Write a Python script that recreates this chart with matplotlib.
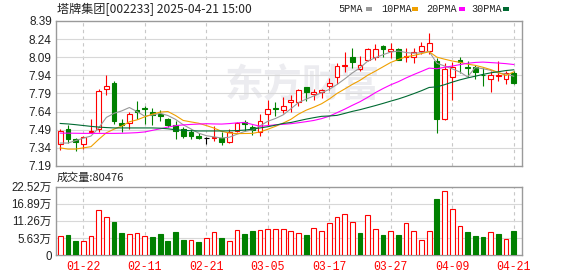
import numpy as np
import matplotlib.pyplot as plt
from matplotlib.patches import Rectangle

# 塔牌集团 日K 数据 (2025-01-17 ~ 2025-04-21)
dates = ["01-17", "01-20", "01-21", "01-22", "01-23", "01-24", "01-27", "02-05", "02-06", "02-07",
         "02-10", "02-11", "02-12", "02-13", "02-14", "02-17", "02-18", "02-19", "02-20", "02-21",
         "02-24", "02-25", "02-26", "02-27", "02-28", "03-03", "03-04", "03-05", "03-06", "03-07",
         "03-10", "03-11", "03-12", "03-13", "03-14", "03-17", "03-18", "03-19", "03-20", "03-21",
         "03-24", "03-25", "03-26", "03-27", "03-28", "03-31", "04-01", "04-02", "04-03", "04-07",
         "04-08", "04-09", "04-10", "04-11", "04-14", "04-15", "04-16", "04-17", "04-18", "04-21"]

open_ = [7.37, 7.50, 7.41, 7.37, 7.47, 7.50, 7.83, 7.88, 7.55, 7.55,
         7.65, 7.67, 7.64, 7.62, 7.58, 7.53, 7.50, 7.47, 7.435, 7.425,
         7.42, 7.42, 7.39, 7.48, 7.555, 7.51, 7.47, 7.62, 7.67, 7.65,
         7.72, 7.72, 7.84, 7.79, 7.80, 7.85, 7.93, 8.02, 8.09, 7.99,
         8.07, 8.09, 8.18, 8.14, 8.16, 8.09, 8.09, 8.14, 8.14, 8.06,
         7.58, 7.93, 8.07, 8.01, 8.01, 7.945, 7.91, 7.935, 7.91, 7.96]
high = [7.50, 7.53, 7.42, 7.44, 7.58, 7.83, 7.94, 7.89, 7.58, 7.64,
        7.73, 7.69, 7.67, 7.65, 7.59, 7.56, 7.51, 7.50, 7.46, 7.43,
        7.52, 7.47, 7.50, 7.55, 7.57, 7.53, 7.62, 7.74, 7.72, 7.76,
        7.78, 7.83, 7.84, 7.83, 7.83, 7.92, 8.04, 8.13, 8.17, 8.10,
        8.17, 8.20, 8.19, 8.21, 8.17, 8.17, 8.17, 8.22, 8.29, 8.08,
        8.04, 8.05, 8.09, 8.06, 8.03, 8.00, 7.98, 8.06, 7.98, 7.98]
low = [7.32, 7.38, 7.31, 7.33, 7.46, 7.47, 7.78, 7.54, 7.47, 7.50,
       7.58, 7.54, 7.53, 7.56, 7.51, 7.41, 7.42, 7.41, 7.41, 7.37,
       7.40, 7.36, 7.38, 7.47, 7.48, 7.45, 7.44, 7.53, 7.60, 7.63,
       7.64, 7.69, 7.73, 7.74, 7.75, 7.82, 7.87, 7.97, 8.00, 7.98,
       8.06, 8.07, 8.09, 8.08, 8.07, 8.05, 8.04, 8.12, 8.12, 7.46,
       7.57, 7.74, 7.96, 7.93, 7.91, 7.85, 7.80, 7.89, 7.87, 7.87]
close = [7.48, 7.41, 7.39, 7.43, 7.48, 7.81, 7.85, 7.56, 7.53, 7.62,
         7.64, 7.66, 7.61, 7.60, 7.53, 7.48, 7.435, 7.44, 7.425, 7.425,
         7.43, 7.39, 7.47, 7.55, 7.535, 7.49, 7.56, 7.66, 7.665, 7.69,
         7.74, 7.82, 7.80, 7.80, 7.82, 7.88, 8.02, 8.03, 8.05, 8.03,
         8.16, 8.16, 8.155, 8.16, 8.07, 8.10, 8.13, 8.18, 8.21, 7.58,
         7.99, 8.01, 8.05, 8.005, 7.97, 7.94, 7.945, 7.94, 7.96, 7.88]

# 均线
ma5 = [7.38, 7.38, 7.40, 7.42, 7.438, 7.504, 7.592, 7.626, 7.646, 7.674,
       7.640, 7.602, 7.612, 7.626, 7.608, 7.576, 7.531, 7.497, 7.462, 7.441,
       7.431, 7.422, 7.428, 7.453, 7.476, 7.488, 7.522, 7.560, 7.583, 7.613,
       7.663, 7.715, 7.743, 7.770, 7.796, 7.824, 7.864, 7.910, 7.960, 8.002,
       8.058, 8.086, 8.111, 8.133, 8.141, 8.129, 8.123, 8.128, 8.138, 8.040,
       8.018, 7.994, 7.968, 7.927, 8.005, 7.995, 7.982, 7.960, 7.951, 7.933]
ma10 = [7.34, 7.33, 7.33, 7.34, 7.35, 7.41, 7.465, 7.495, 7.52, 7.556,
        7.572, 7.597, 7.619, 7.636, 7.641, 7.608, 7.567, 7.555, 7.544, 7.525,
        7.504, 7.477, 7.463, 7.458, 7.459, 7.460, 7.472, 7.494, 7.518, 7.545,
        7.576, 7.619, 7.652, 7.677, 7.705, 7.744, 7.790, 7.827, 7.865, 7.899,
        7.941, 7.975, 8.011, 8.047, 8.072, 8.094, 8.105, 8.120, 8.136, 8.091,
        8.074, 8.059, 8.048, 8.033, 8.023, 8.007, 7.988, 7.964, 7.939, 7.969]
ma20 = [7.462, 7.462, 7.461, 7.460, 7.460, 7.460, 7.460, 7.460, 7.461, 7.463,
        7.466, 7.472, 7.485, 7.498, 7.512, 7.524, 7.530, 7.534, 7.537, 7.540,
        7.538, 7.537, 7.541, 7.547, 7.550, 7.534, 7.519, 7.524, 7.531, 7.535,
        7.540, 7.548, 7.557, 7.567, 7.582, 7.602, 7.631, 7.660, 7.692, 7.722,
        7.758, 7.797, 7.831, 7.862, 7.888, 7.919, 7.947, 7.973, 8.000, 7.995,
        8.007, 8.017, 8.029, 8.040, 8.047, 8.050, 8.046, 8.042, 8.037, 8.030]
ma30 = [7.542, 7.538, 7.532, 7.525, 7.518, 7.512, 7.508, 7.505, 7.505, 7.505,
        7.505, 7.505, 7.505, 7.503, 7.498, 7.490, 7.485, 7.482, 7.480, 7.480,
        7.480, 7.480, 7.481, 7.483, 7.487, 7.495, 7.505, 7.515, 7.528, 7.542,
        7.550, 7.564, 7.578, 7.590, 7.601, 7.604, 7.609, 7.625, 7.642, 7.656,
        7.673, 7.690, 7.708, 7.727, 7.745, 7.766, 7.789, 7.813, 7.840, 7.845,
        7.863, 7.884, 7.903, 7.919, 7.933, 7.948, 7.961, 7.970, 7.980, 7.986]

# 成交量 (手)
volume = [62600, 65900, 46100, 46100, 62600, 148200, 124000, 109800, 71300, 68100,
          71300, 62600, 58200, 68100, 46100, 75700, 49400, 49400, 42800, 54900,
          74600, 56000, 46100, 81200, 69200, 79000, 82300, 85600, 85600, 85600,
          79000, 71300, 65900, 87800, 79000, 104300, 124000, 133900, 107600, 72400,
          130600, 84500, 65900, 79000, 65900, 104300, 79000, 49400, 79000, 184400,
          209700, 150400, 94400, 75700, 62600, 59300, 74600, 69200, 52700, 80476]

price_ticks = [7.19, 7.34, 7.49, 7.64, 7.79, 7.94, 8.09, 8.24, 8.39]
vol_ticks = [0, 56300, 112600, 168900, 225200]
tick_idx = [3, 11, 19, 27, 35, 43, 51, 59]

RED = "#ff0000"
GREEN = "#008000"
GRID = "#d8d8d8"
BORDER = "#9a9a9a"
CJK = ["Noto Sans CJK SC", "DejaVu Sans"]

o = np.array(open_)
c = np.array(close)
h = np.array(high)
l = np.array(low)
x = np.arange(len(c))
W, H = 578, 276

fig = plt.figure(figsize=(W / 100, H / 100), dpi=100)
ax = fig.add_axes([56 / W, 1 - 166 / H, 466 / W, 145 / H])
axv = fig.add_axes([56 / W, 1 - 255 / H, 466 / W, 68.3 / H])

for a in (ax, axv):
    a.set_xlim(-0.55, 60.08)
    for s in a.spines.values():
        s.set_color(BORDER)
        s.set_linewidth(1.0)
    a.set_xticks(tick_idx)
    a.tick_params(length=0)
    for t in tick_idx:
        a.axvline(t, color="#c8c8c8", lw=0.8, ls=(0, (3, 3)), zorder=0)

# watermark
ax.text(0.528, 0.55, "东方财富", transform=ax.transAxes, ha="center", va="center",
        fontsize=28, color="#ececf0", fontweight="bold", family=CJK, zorder=0)

# K线
up = c > o
down = c < o
flat = c == o
wick_col = np.where(up, RED, np.where(down, GREEN, "#000000"))
ax.vlines(x, l, h, colors=wick_col, lw=0.8, zorder=2)
body_h = np.abs(c - o)
body_b = np.minimum(o, c)
ax.bar(x[up], body_h[up], bottom=body_b[up], width=0.62, facecolor="white",
       edgecolor=RED, linewidth=0.8, zorder=3)
ax.bar(x[down], body_h[down], bottom=body_b[down], width=0.62, facecolor=GREEN,
       edgecolor=GREEN, linewidth=0.8, zorder=3)
ax.hlines(c[flat], x[flat] - 0.31, x[flat] + 0.31, colors="#000000", lw=0.8, zorder=3)

ma_cols = ["#999999", "#f0a000", "#ff00ff", "#006a32"]
for ma, col in zip([ma5, ma10, ma20, ma30], ma_cols):
    ax.plot(x, ma, color=col, lw=0.8, zorder=4)

ax.set_ylim(7.19, 8.39)
ax.set_yticks(price_ticks)
ax.set_yticklabels([f"{v:.2f}" for v in price_ticks], family="Liberation Sans",
                   fontsize=8.5, color="#222222")
ax.tick_params(axis="y", pad=3)
ax.tick_params(axis="x", labelbottom=False)
for v in price_ticks[1:-1]:
    ax.axhline(v, color=GRID, lw=0.8, zorder=0)

# 成交量
vol = np.array(volume)
vol_up = np.concatenate([[True], c[1:] >= c[:-1]])
axv.bar(x[vol_up], vol[vol_up], width=0.62, facecolor="white", edgecolor=RED,
        linewidth=0.8, zorder=3)
axv.bar(x[~vol_up], vol[~vol_up], width=0.62, facecolor=GREEN, edgecolor=GREEN,
        linewidth=0.8, zorder=3)
axv.set_ylim(0, vol_ticks[-1])
axv.set_yticks(vol_ticks)
axv.set_yticklabels(["0"] + [f"{v / 10000:.2f}万" for v in vol_ticks[1:]],
                    family=["Liberation Sans", "Noto Sans CJK SC"], fontsize=8.3,
                    color="#222222")
axv.tick_params(axis="y", pad=3)
for v in vol_ticks[1:-1]:
    axv.axhline(v, color=GRID, lw=0.8, zorder=0)
axv.set_xticklabels([dates[i] for i in tick_idx], family="Liberation Mono",
                    fontsize=8.3, color=RED)
axv.tick_params(axis="x", pad=4)

# 标题与图例
fig.text(57 / W, 1 - 9 / H, "塔牌集团[002233] 2025-04-21 15:00", va="center",
         ha="left", fontsize=8.7, family=CJK, color="#222222")
fig.text(57 / W, 1 - 178 / H, f"成交量:{volume[-1]}", va="center", ha="left",
         fontsize=8, family=CJK, color="#222222")
legend_pos = [(338, 366), (381, 412), (426, 459), (471, 503)]
for name, col, (tx, mx) in zip(["5PMA", "10PMA", "20PMA", "30PMA"], ma_cols, legend_pos):
    fig.text(tx / W, 1 - 9 / H, name, va="center", ha="left", fontsize=7.3,
             family="Liberation Mono", color="#222222")
    fig.add_artist(Rectangle((mx / W, 1 - 10.5 / H), 6 / W, 3 / H, transform=fig.transFigure,
                             facecolor=col, edgecolor="none"))

fig.savefig("out.png", dpi=100)
